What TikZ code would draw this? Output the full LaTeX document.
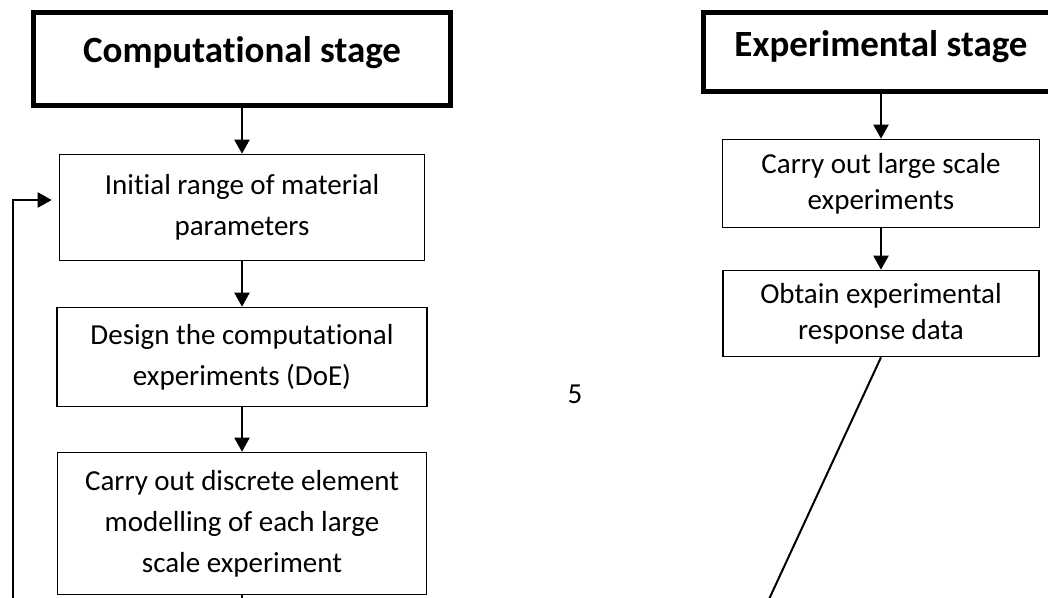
\documentclass[tikz,border=0pt]{standalone}
\usepackage{fontspec}
\setmainfont{Carlito}[Ligatures=NoCommon]
\usepackage{tikz}
\usetikzlibrary{
    arrows.meta,
    positioning
}

\begin{document}
\begin{tikzpicture}[x=1pt,y=-1pt,
    stagebox/.style={draw,line width=4.5pt,font=\fontsize{37pt}{44pt}\selectfont\bfseries,text height=27pt},
    stepbox/.style={draw,line width=1.6pt,align=center,inner sep=0pt,font=\fontsize{29pt}{41pt}\selectfont},
    flow/.style={line width=2pt,-{Triangle[width=15pt,length=14pt]}},
    plain/.style={line width=2pt}]
    \useasboundingbox (0,0) rectangle (1048,597);
    % computational stage
    \node[stagebox,minimum width=417pt,minimum height=93pt,text depth=21pt] (comp) at (242,59) {Computational stage};
    \node[stepbox,minimum width=365pt,minimum height=106pt] (init) at (242,207.5) {Initial range of material\\parameters};
    \node[stepbox,minimum width=370pt,minimum height=99pt] (doe) at (242,357) {Design the computational\\experiments (DoE)};
    \node[stepbox,minimum width=369pt,minimum height=142pt] (dem) at (242,523.5) {Carry out discrete element\\modelling of each large\\scale experiment};
    % experimental stage
    \node[stagebox,minimum width=355pt,minimum height=79pt,text depth=19pt] (expt) at (881,52) {Experimental stage};
    \node[stepbox,minimum width=317pt,minimum height=88pt,font=\fontsize{29pt}{36pt}\selectfont] (large) at (881,183.5) {Carry out large scale\\experiments};
    \node[stepbox,minimum width=316pt,minimum height=86pt,font=\fontsize{29pt}{36pt}\selectfont] (resp) at (881,313.5) {Obtain experimental\\response data};
    \node[font=\fontsize{29pt}{36pt}\selectfont] (pagenum) at (575,394) {5};
    % loose ends below the page
    \coordinate (loop) at (13,610);
    \coordinate (demout) at (242,610);
    \coordinate (respout) at (764,610);

    \draw[flow] (comp) -- (init);
    \draw[flow] (init) -- (doe);
    \draw[flow] (doe) -- (dem);
    \draw[plain] (dem) -- (demout);
    \draw[flow] (loop) |- ([xshift=-7pt,yshift=7.5pt]init.west);
    \draw[flow] (expt) -- (large);
    \draw[flow] (large) -- (resp);
    \draw[plain] (resp.south) -- (respout);
\end{tikzpicture}
\end{document}
